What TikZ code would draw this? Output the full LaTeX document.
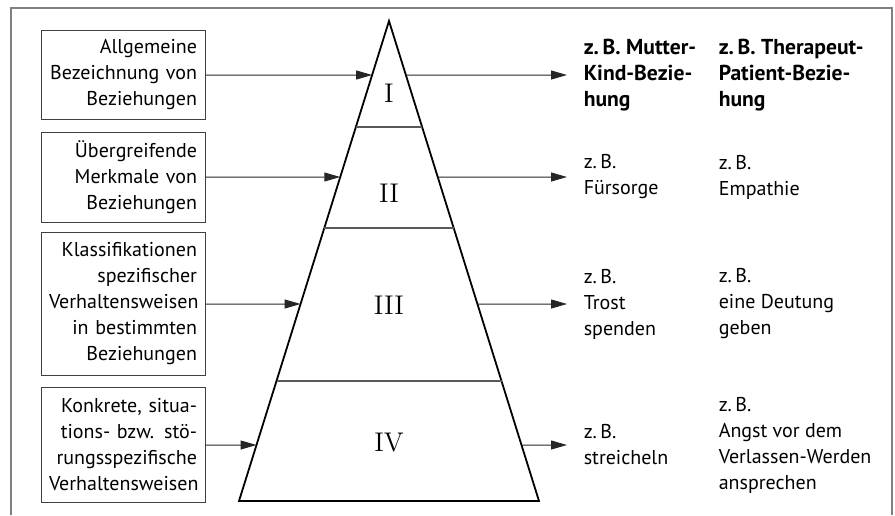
\documentclass[tikz,border=0pt]{standalone}
\usepackage{fontspec}
\setsansfont{PT Sans}
\usetikzlibrary{arrows.meta,positioning,calc}

\begin{document}
\begin{tikzpicture}[x=0.5pt,y=-0.5pt,
  every node/.style={font=\sffamily\fontsize{10}{13}\selectfont},
  levelbox/.style={draw=black!75,line width=.5pt,minimum width=82pt,text width=74pt,inner xsep=4pt,inner ysep=2pt,align=right},
  example/.style={inner sep=0pt,align=left,anchor=west},
  boldexample/.style={example,font=\sffamily\bfseries\fontsize{10.8}{13}\selectfont},
  numeral/.style={font=\rmfamily\fontsize{13.5}{16}\selectfont},
  arr/.style={-{Triangle[length=8pt,width=4.5pt]},draw=black!85,line width=.5pt},
  every path/.style={line width=.8pt}]
\useasboundingbox (0,0) rectangle (895,515);
% outer frame, open at the bottom
\draw[gray,line width=1pt] (11,515) -- (11,8) -- (892,8) -- (892,515);
% pyramid
\coordinate (apex) at (389,21);
\coordinate (bl) at (239,501);
\coordinate (br) at (539,501);
\draw[line width=.9pt] (apex) -- (bl) -- (br) -- cycle;
\foreach \t in {0.2208,0.43125,0.75}
  \draw[black!65,line width=.6pt] ($(apex)!\t!(bl)$) -- ($(apex)!\t!(br)$);
\node[numeral] (n1) at (389,93) {I};
\node[numeral] (n2) at (389,193) {II};
\node[numeral] (n3) at (389,305) {III};
\node[numeral] (n4) at (389,443) {IV};
% points where the arrows meet the pyramid
\foreach \t/\n in {0.1125/1,0.325/2,0.58958/3,0.88333/4}{
  \coordinate (l\n) at ($(apex)!\t!(bl)$);
  \coordinate (r\n) at ($(apex)!\t!(br)$);
}
% left boxes
\node[levelbox,minimum height=44.5pt] (b1) at (123,75) {Allgemeine\\Bezeichnung von\\Beziehungen};
\node[levelbox,minimum height=45pt] (b2) at (123,177) {Übergreifende\\Merkmale von\\Beziehungen};
\node[levelbox,minimum height=71.5pt] (b3) at (123,304) {Klassifikationen\\spezifischer\\Verhaltensweisen\\in bestimmten\\Beziehungen};
\node[levelbox,minimum height=57.5pt] (b4) at (123,445) {Konkrete, situa-\\tions- bzw. stö-\\rungsspezifische\\Verhaltensweisen};
\foreach \n in {1,...,4}
  \draw[arr] (b\n.east) -- (l\n);
% examples
\node[boldexample] (c1) at (583,75) {z.\,B. Mutter-\\Kind-Bezie-\\hung};
\node[boldexample] (d1) at (718,75) {z.\,B. Therapeut-\\Patient-Bezie-\\hung};
\node[example] (c2) at (583,177) {z.\,B.\\Fürsorge};
\node[example] (d2) at (718,177) {z.\,B.\\Empathie};
\node[example] (c3) at (583,304) {z.\,B.\\Trost\\spenden};
\node[example] (d3) at (718,304) {z.\,B.\\eine Deutung\\geben};
\node[example] (c4) at (583,445) {z.\,B.\\streicheln};
\node[example] (d4) at (718,445) {z.\,B.\\Angst vor dem\\Verlassen-Werden\\ansprechen};
\foreach \n in {1,...,4}
  \draw[arr,shorten >=8pt] (r\n) -- (c\n.west);
\end{tikzpicture}
\end{document}
